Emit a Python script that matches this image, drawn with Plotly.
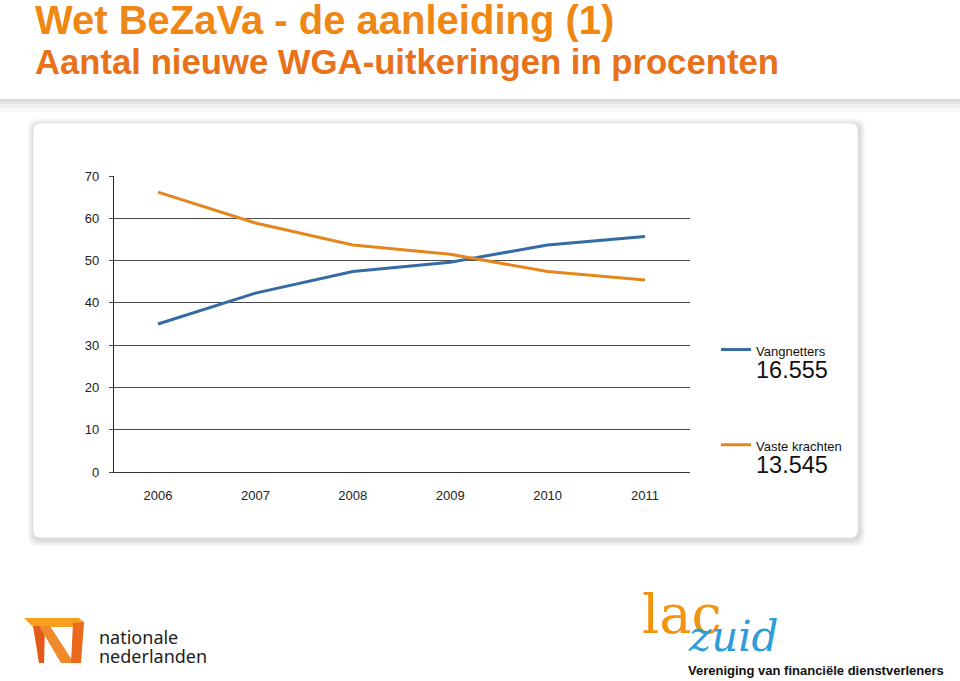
import plotly.graph_objects as go

# ---------------- data ----------------
years = [2006, 2007, 2008, 2009, 2010, 2011]
year_labels = ["2006", "2007", "2008", "2009", "2010", "2011"]
vangnetters = [35.0, 42.3, 47.4, 49.6, 53.7, 55.7]
vaste_krachten = [66.2, 58.9, 53.7, 51.5, 47.4, 45.4]
series_names = ["Vangnetters", "Vaste krachten"]
series_totals = ["16.555", "13.545"]
y_ticks = [0, 10, 20, 30, 40, 50, 60, 70]

title_text = "Wet BeZaVa - de aanleiding (1)"
subtitle_text = "Aantal nieuwe WGA-uitkeringen in procenten"

BLUE = "#356BA5"
ORANGE = "#E4861E"

W, H = 960, 681
ML, MR, MT, MB = 114, 270, 176, 209
PW = W - ML - MR
PH = H - MT - MB


def px(x):
    return (x - ML) / PW


def py(y):
    return (H - MB - y) / PH


def legend_name(i):
    return (f"<span style='font-size:13px'>{series_names[i]}</span><br>"
            f"<span style='font-size:23.5px'>{series_totals[i]}</span>")


fig = go.Figure()
fig.add_trace(go.Scatter(x=years, y=vangnetters, mode="lines", name=legend_name(0),
                         line=dict(color=BLUE, width=3), legendgroup="a"))
fig.add_trace(go.Scatter(x=years, y=vaste_krachten, mode="lines", name=legend_name(1),
                         line=dict(color=ORANGE, width=3), legendgroup="b"))

shapes = []


def rect(x0, y0, x1, y1, fill, layer="below"):
    shapes.append(dict(type="rect", xref="paper", yref="paper",
                       x0=px(x0), x1=px(x1), y0=py(y1), y1=py(y0),
                       fillcolor=fill, line=dict(width=0), layer=layer))


def rrect(x0, y0, x1, y1, r, fill, line=None, lw=0):
    def P(x, y):
        return f"{px(x):.5f},{py(y):.5f}"
    path = (f"M {P(x0 + r, y0)} L {P(x1 - r, y0)} Q {P(x1, y0)} {P(x1, y0 + r)} "
            f"L {P(x1, y1 - r)} Q {P(x1, y1)} {P(x1 - r, y1)} "
            f"L {P(x0 + r, y1)} Q {P(x0, y1)} {P(x0, y1 - r)} "
            f"L {P(x0, y0 + r)} Q {P(x0, y0)} {P(x0 + r, y0)} Z")
    shapes.append(dict(type="path", xref="paper", yref="paper", path=path,
                       fillcolor=fill, line=dict(width=lw, color=line or fill),
                       layer="below"))


def poly(pts, fill):
    path = "M " + " L ".join(f"{px(x):.5f},{py(y):.5f}" for x, y in pts) + " Z"
    shapes.append(dict(type="path", xref="paper", yref="paper", path=path,
                       fillcolor=fill, line=dict(width=0), layer="above"))


# header shadow band
rect(0, 99, W, 101, "#d6d6d6")
rect(0, 101, W, 104, "#e4e4e4")
rect(0, 104, W, 108, "#efefef")
rect(0, 108, W, 112, "#f7f7f7")

# card shadow + card
for i, c in enumerate(["#f6f6f6", "#eeeeee", "#e4e4e4", "#dadada"]):
    d = 6 - i * 1.5
    rrect(33 - d + 1, 123 - d + 2, 858 + d + 1, 538 + d + 2, 9, c)
rrect(33, 123, 858, 538, 8, "#ffffff", "#e2e2e2", 0.8)

# NN logo (stylised ribbon N)
poly([(24, 618), (79, 618), (84, 622), (83, 627), (33, 627)], "#F7A01E")
poly([(33, 626), (45, 626), (44, 663), (39, 663)], "#E35A1A")
poly([(39, 626), (50, 626), (74, 663), (61, 663)], "#F18A2A")
poly([(73, 623), (84, 622), (81, 663), (71, 663)], "#EC6A1E")

annotations = [
    dict(text=f"<b>{title_text}</b>", xref="paper", yref="paper",
         x=px(33), y=py(20), xanchor="left", yanchor="middle", showarrow=False,
         font=dict(family="Liberation Sans, Arial", size=40, color="#EF8714")),
    dict(text=f"<b>{subtitle_text}</b>", xref="paper", yref="paper",
         x=px(33), y=py(62), xanchor="left", yanchor="middle", showarrow=False,
         font=dict(family="Liberation Sans, Arial", size=34.7, color="#E8711A")),
    dict(text="<span style='font-size:18px'>nationale</span><br>"
              "<span style='font-size:18px'>nederlanden</span>",
         xref="paper", yref="paper", align="left",
         x=px(97), y=py(646), xanchor="left", yanchor="middle", showarrow=False,
         font=dict(family="Noto Sans", size=14.6, color="#1d1d1b")),
    dict(text="lac", xref="paper", yref="paper",
         x=px(640), y=py(614), xanchor="left", yanchor="middle", showarrow=False,
         font=dict(family="DejaVu Serif", size=54, color="#F2940F")),
    dict(text="<i>zuid</i>", xref="paper", yref="paper",
         x=px(686), y=py(636), xanchor="left", yanchor="middle", showarrow=False,
         font=dict(family="DejaVu Serif", size=42, color="#2D9CD7")),
    dict(text="<b>Vereniging van financiële dienstverleners</b>", xref="paper", yref="paper",
         x=px(686), y=py(670), xanchor="left", yanchor="middle", showarrow=False,
         font=dict(family="Liberation Sans, Arial", size=13, color="#111111")),
]

fig.update_layout(
    width=W, height=H,
    margin=dict(l=ML, r=MR, t=MT, b=MB, pad=0),
    paper_bgcolor="#ffffff", plot_bgcolor="rgba(0,0,0,0)",
    shapes=shapes, annotations=annotations,
    font=dict(family="Liberation Sans, Arial", size=13, color="#222222"),
    showlegend=True,
    legend=dict(x=px(716), y=py(332), xanchor="left", yanchor="top",
                valign="top", tracegroupgap=48, bgcolor="rgba(0,0,0,0)",
                font=dict(family="Liberation Sans, Arial", size=17, color="#111111"),
                itemwidth=30),
)
fig.update_xaxes(range=[2005.548, 2011.462], tickmode="array", tickvals=years,
                 ticktext=year_labels, showgrid=False, zeroline=False,
                 showline=True, linecolor="#333333", linewidth=1.3, ticks="",
                 ticklabelstandoff=11, tickfont=dict(size=13, color="#222222"))
fig.update_yaxes(range=[0, 70], tickmode="array", tickvals=y_ticks,
                 showgrid=True, gridcolor="#4a4a4a", gridwidth=1.4, zeroline=False,
                 showline=True, linecolor="#222222", linewidth=1.3,
                 ticks="outside", ticklen=4, tickcolor="#4a4a4a",
                 ticklabelstandoff=7, tickfont=dict(size=13, color="#222222"))

fig.write_html("out.html", config={"displayModeBar": False},
               post_script="document.body.style.margin='0';")
